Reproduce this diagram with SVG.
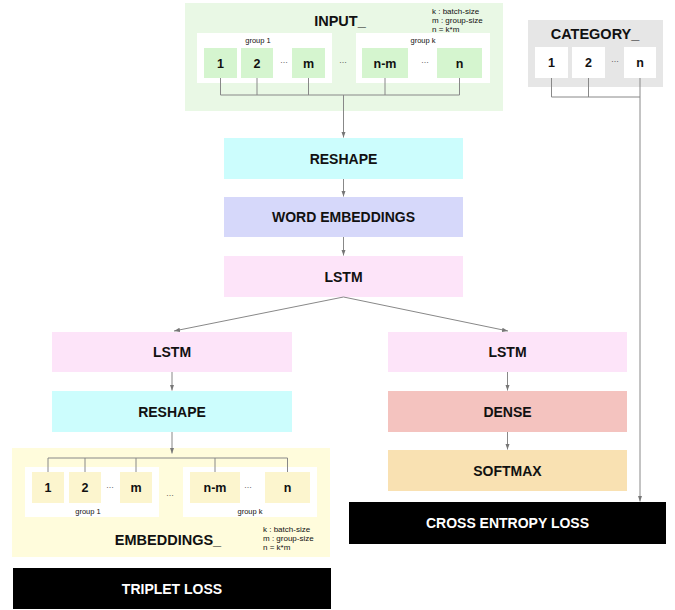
<svg xmlns="http://www.w3.org/2000/svg" width="675" height="610" viewBox="0 0 675 610">
<defs>
<marker id="arr" viewBox="0 0 6 6" refX="6" refY="3" markerWidth="6" markerHeight="6" markerUnits="userSpaceOnUse" orient="auto">
<path d="M0,0.8 L6,3 L0,5.2 z" fill="#777"/>
</marker>
<style>
text{font-family:"Liberation Sans",Arial,sans-serif;text-anchor:middle;fill:#111}
.lbl{font-size:14px;font-weight:bold}
.title{font-size:14.5px;font-weight:bold}
.item{font-size:12.5px;font-weight:bold}
.grp{font-size:7.5px}
.dots{font-size:8px}
.note{font-size:8px;text-anchor:start}
.wht{fill:#fff}
.conn{fill:none;stroke:#888;stroke-width:1}
.arrow{fill:none;stroke:#888;stroke-width:1;marker-end:url(#arr)}
.gin{fill:#d5f5cf}
.yin{fill:#fcf5ce}
</style>
</defs>
<rect width="675" height="610" fill="#fff"/>

<g id="input">
<rect x="185" y="3" width="318" height="108" fill="#e9f8e5"/>
<text class="title" x="340" y="26">INPUT_</text>
<text class="note" x="432" y="13.5">k : batch-size</text>
<text class="note" x="432" y="22.5">m : group-size</text>
<text class="note" x="432" y="31.5">n = k*m</text>
<rect x="197" y="33" width="135" height="50" fill="#fff"/>
<rect x="356" y="33" width="134" height="50" fill="#fff"/>
<text class="grp" x="258" y="43">group 1</text>
<text class="grp" x="423" y="43">group k</text>
<rect class="gin" x="204" y="48" width="33" height="30"/>
<rect class="gin" x="241" y="48" width="32" height="30"/>
<rect class="gin" x="292" y="48" width="33" height="30"/>
<rect class="gin" x="362" y="48" width="46" height="30"/>
<rect class="gin" x="437" y="48" width="45" height="30"/>
<text class="item" x="220.5" y="67.5">1</text>
<text class="item" x="257" y="67.5">2</text>
<text class="item" x="308.5" y="67.5">m</text>
<text class="item" x="385" y="67.5">n-m</text>
<text class="item" x="459.5" y="67.5">n</text>
<text class="dots" x="284" y="63">…</text>
<text class="dots" x="343" y="63">…</text>
<text class="dots" x="425" y="63">…</text>
</g>

<g id="category">
<rect x="528" y="20" width="135" height="67" fill="#e6e6e6"/>
<text class="title" x="595" y="39">CATEGORY_</text>
<rect x="535" y="47" width="33" height="31" fill="#fff"/>
<rect x="572" y="47" width="33" height="31" fill="#fff"/>
<rect x="624" y="47" width="32" height="31" fill="#fff"/>
<text class="item" x="551.5" y="67">1</text>
<text class="item" x="588.5" y="67">2</text>
<text class="item" x="640" y="67">n</text>
<text class="dots" x="615" y="62">…</text>
</g>

<g id="reshape1">
<rect x="224" y="138" width="239" height="41" fill="#ccfdfd"/>
<text class="lbl" x="343.5" y="163.5">RESHAPE</text>
</g>
<g id="word-embeddings">
<rect x="224" y="197" width="239" height="40" fill="#d6d8fa"/>
<text class="lbl" x="343.5" y="222">WORD EMBEDDINGS</text>
</g>
<g id="lstm1">
<rect x="224" y="256" width="239" height="41" fill="#fde4f9"/>
<text class="lbl" x="343.5" y="281.5">LSTM</text>
</g>

<g id="lstm-left">
<rect x="52" y="332" width="240" height="40" fill="#fde4f9"/>
<text class="lbl" x="172" y="357">LSTM</text>
</g>
<g id="reshape-left">
<rect x="52" y="391" width="240" height="41" fill="#ccfdfd"/>
<text class="lbl" x="172" y="416.5">RESHAPE</text>
</g>

<g id="lstm-right">
<rect x="388" y="332" width="239" height="40" fill="#fde4f9"/>
<text class="lbl" x="507.5" y="357">LSTM</text>
</g>
<g id="dense">
<rect x="388" y="391" width="239" height="41" fill="#f4c3bf"/>
<text class="lbl" x="507.5" y="416.5">DENSE</text>
</g>
<g id="softmax">
<rect x="388" y="450" width="239" height="41" fill="#f9e1b2"/>
<text class="lbl" x="507.5" y="475.5">SOFTMAX</text>
</g>

<g id="embeddings">
<rect x="12" y="448" width="318" height="109" fill="#fffcdc"/>
<rect x="25" y="467" width="134" height="50" fill="#fff"/>
<rect x="183" y="467" width="134" height="50" fill="#fff"/>
<rect class="yin" x="32" y="472" width="32" height="31"/>
<rect class="yin" x="69" y="472" width="32" height="31"/>
<rect class="yin" x="120" y="472" width="32" height="31"/>
<rect class="yin" x="190" y="472" width="50" height="31"/>
<rect class="yin" x="265" y="472" width="45" height="31"/>
<text class="item" x="48" y="492">1</text>
<text class="item" x="85" y="492">2</text>
<text class="item" x="136" y="492">m</text>
<text class="item" x="215" y="492">n-m</text>
<text class="item" x="287.5" y="492">n</text>
<text class="dots" x="110" y="488">…</text>
<text class="dots" x="170" y="496">…</text>
<text class="dots" x="248" y="488">…</text>
<text class="grp" x="88" y="514">group 1</text>
<text class="grp" x="250" y="514">group k</text>
<text class="title" x="168" y="545">EMBEDDINGS_</text>
<text class="note" x="263" y="532">k : batch-size</text>
<text class="note" x="263" y="541">m : group-size</text>
<text class="note" x="263" y="550">n = k*m</text>
</g>

<g id="triplet-loss">
<rect x="13" y="568" width="318" height="41" fill="#000"/>
<text class="lbl wht" x="172" y="593.5">TRIPLET LOSS</text>
</g>
<g id="cross-entropy-loss">
<rect x="349" y="502" width="317" height="42" fill="#000"/>
<text class="lbl wht" x="507.5" y="528">CROSS ENTROPY LOSS</text>
</g>

<g id="connectors">
<path class="conn" d="M220.5,78 V95 M257,78 V95 M308.5,78 V95 M385,78 V95 M459.5,78 V95 M220.5,95 H459.5"/>
<path class="arrow" d="M343.5,95 V137.5"/>
<path class="arrow" d="M343.5,179 V196.5"/>
<path class="arrow" d="M343.5,237 V255.5"/>
<path class="arrow" d="M343.5,297 L174,331"/>
<path class="arrow" d="M343.5,297 L508,331"/>
<path class="arrow" d="M172,372 V390.5"/>
<path class="arrow" d="M172,432 V453.5"/>
<path class="arrow" d="M507.5,372 V390.5"/>
<path class="arrow" d="M507.5,432 V449.5"/>
<path class="conn" d="M48,472 V458 M85,472 V458 M136,472 V458 M215,472 V458 M287.5,472 V458 M48,458 H287.5"/>
<path class="conn" d="M551.5,78 V97 M588.5,78 V97 M551.5,97 H640 M640,78 V97"/>
<path class="arrow" d="M640,97 V501.5"/>
</g>
</svg>
